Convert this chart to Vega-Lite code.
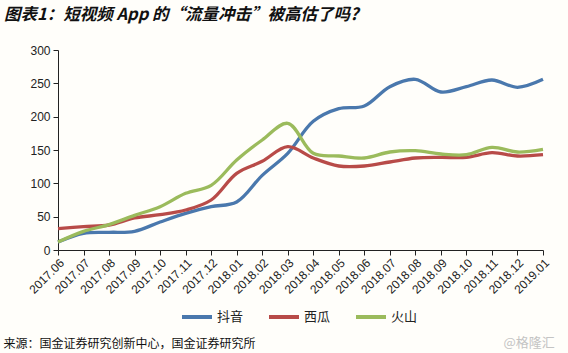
{
  "$schema": "https://vega.github.io/schema/vega-lite/v6.json",
  "autosize": {"type": "none"},
  "width": 485,
  "height": 200,
  "padding": {"left": 58, "top": 50, "right": 25, "bottom": 103},
  "background": "#fffefa",
  "title": {
    "text": "图表1：短视频 App 的“流量冲击”被高估了吗?",
    "anchor": "start",
    "frame": "group",
    "dx": -54,
    "offset": 21,
    "fontSize": 16.5,
    "fontWeight": "bold",
    "fontStyle": "italic",
    "font": "Noto Sans CJK SC",
    "color": "#111111"
  },
  "config": {
    "view": {"stroke": null},
    "axis": {"labelFont": "Liberation Sans", "labelColor": "#222222", "domainColor": "#222222", "tickColor": "#222222", "grid": false}
  },
  "data": {
    "values": [
      {"month": "2017.06", "app": "抖音", "value": 12},
      {"month": "2017.07", "app": "抖音", "value": 25},
      {"month": "2017.08", "app": "抖音", "value": 26.5},
      {"month": "2017.09", "app": "抖音", "value": 28},
      {"month": "2017.10", "app": "抖音", "value": 42},
      {"month": "2017.11", "app": "抖音", "value": 55},
      {"month": "2017.12", "app": "抖音", "value": 65},
      {"month": "2018.01", "app": "抖音", "value": 72},
      {"month": "2018.02", "app": "抖音", "value": 112},
      {"month": "2018.03", "app": "抖音", "value": 145},
      {"month": "2018.04", "app": "抖音", "value": 193},
      {"month": "2018.05", "app": "抖音", "value": 212},
      {"month": "2018.06", "app": "抖音", "value": 216},
      {"month": "2018.07", "app": "抖音", "value": 245},
      {"month": "2018.08", "app": "抖音", "value": 256},
      {"month": "2018.09", "app": "抖音", "value": 237},
      {"month": "2018.10", "app": "抖音", "value": 245},
      {"month": "2018.11", "app": "抖音", "value": 255},
      {"month": "2018.12", "app": "抖音", "value": 244},
      {"month": "2019.01", "app": "抖音", "value": 256},
      {"month": "2017.06", "app": "西瓜", "value": 32},
      {"month": "2017.07", "app": "西瓜", "value": 35},
      {"month": "2017.08", "app": "西瓜", "value": 37.5},
      {"month": "2017.09", "app": "西瓜", "value": 48},
      {"month": "2017.10", "app": "西瓜", "value": 53},
      {"month": "2017.11", "app": "西瓜", "value": 60},
      {"month": "2017.12", "app": "西瓜", "value": 75},
      {"month": "2018.01", "app": "西瓜", "value": 115},
      {"month": "2018.02", "app": "西瓜", "value": 133},
      {"month": "2018.03", "app": "西瓜", "value": 155},
      {"month": "2018.04", "app": "西瓜", "value": 138},
      {"month": "2018.05", "app": "西瓜", "value": 126},
      {"month": "2018.06", "app": "西瓜", "value": 126},
      {"month": "2018.07", "app": "西瓜", "value": 132},
      {"month": "2018.08", "app": "西瓜", "value": 138},
      {"month": "2018.09", "app": "西瓜", "value": 139},
      {"month": "2018.10", "app": "西瓜", "value": 139},
      {"month": "2018.11", "app": "西瓜", "value": 146},
      {"month": "2018.12", "app": "西瓜", "value": 141},
      {"month": "2019.01", "app": "西瓜", "value": 143},
      {"month": "2017.06", "app": "火山", "value": 12},
      {"month": "2017.07", "app": "火山", "value": 28},
      {"month": "2017.08", "app": "火山", "value": 38},
      {"month": "2017.09", "app": "火山", "value": 52},
      {"month": "2017.10", "app": "火山", "value": 65},
      {"month": "2017.11", "app": "火山", "value": 85},
      {"month": "2017.12", "app": "火山", "value": 97},
      {"month": "2018.01", "app": "火山", "value": 135},
      {"month": "2018.02", "app": "火山", "value": 165},
      {"month": "2018.03", "app": "火山", "value": 190},
      {"month": "2018.04", "app": "火山", "value": 145},
      {"month": "2018.05", "app": "火山", "value": 141},
      {"month": "2018.06", "app": "火山", "value": 138},
      {"month": "2018.07", "app": "火山", "value": 147},
      {"month": "2018.08", "app": "火山", "value": 149},
      {"month": "2018.09", "app": "火山", "value": 144},
      {"month": "2018.10", "app": "火山", "value": 143},
      {"month": "2018.11", "app": "火山", "value": 154},
      {"month": "2018.12", "app": "火山", "value": 147},
      {"month": "2019.01", "app": "火山", "value": 151}
    ]
  },
  "mark": {"type": "line", "interpolate": "catmull-rom", "strokeWidth": 3.3},
  "encoding": {
    "x": {
      "field": "month",
      "type": "ordinal",
      "scale": {"type": "point", "padding": 0},
      "axis": {
        "title": "来源：国金证券研究创新中心，国金证券研究所",
        "titleFont": "Noto Sans CJK SC",
        "titleFontSize": 12,
        "titleFontWeight": "normal",
        "titleColor": "#111111",
        "titleAnchor": "start",
        "titleAlign": "left",
        "titleBaseline": "middle",
        "titleX": -55,
        "titleY": 93,
        "labelAngle": -45,
        "labelFontSize": 12,
        "tickSize": 5,
        "labelPadding": 2
      }
    },
    "y": {
      "field": "value",
      "type": "quantitative",
      "scale": {"domain": [0, 300]},
      "axis": {
        "values": [0, 50, 100, 150, 200, 250, 300],
        "title": "@格隆汇",
        "titleFont": "Noto Sans CJK SC",
        "titleFontSize": 13,
        "titleFontWeight": "normal",
        "titleColor": "#c4c4c4",
        "titleAngle": 0,
        "titleAlign": "left",
        "titleBaseline": "middle",
        "titleX": 445,
        "titleY": 292,
        "labelFontSize": 12,
        "tickSize": 5,
        "labelPadding": 3
      }
    },
    "color": {
      "field": "app",
      "type": "nominal",
      "scale": {"domain": ["抖音", "西瓜", "火山"], "range": ["#4a78ad", "#b84b48", "#9bbb5c"]},
      "legend": {
        "title": null,
        "orient": "none",
        "direction": "horizontal",
        "legendX": 122,
        "legendY": 250,
        "symbolType": "stroke",
        "symbolSize": 900,
        "symbolStrokeWidth": 4,
        "labelFont": "Noto Sans CJK SC",
        "labelFontSize": 13,
        "labelColor": "#222222",
        "labelOffset": 3,
        "columnPadding": 17
      }
    }
  }
}
